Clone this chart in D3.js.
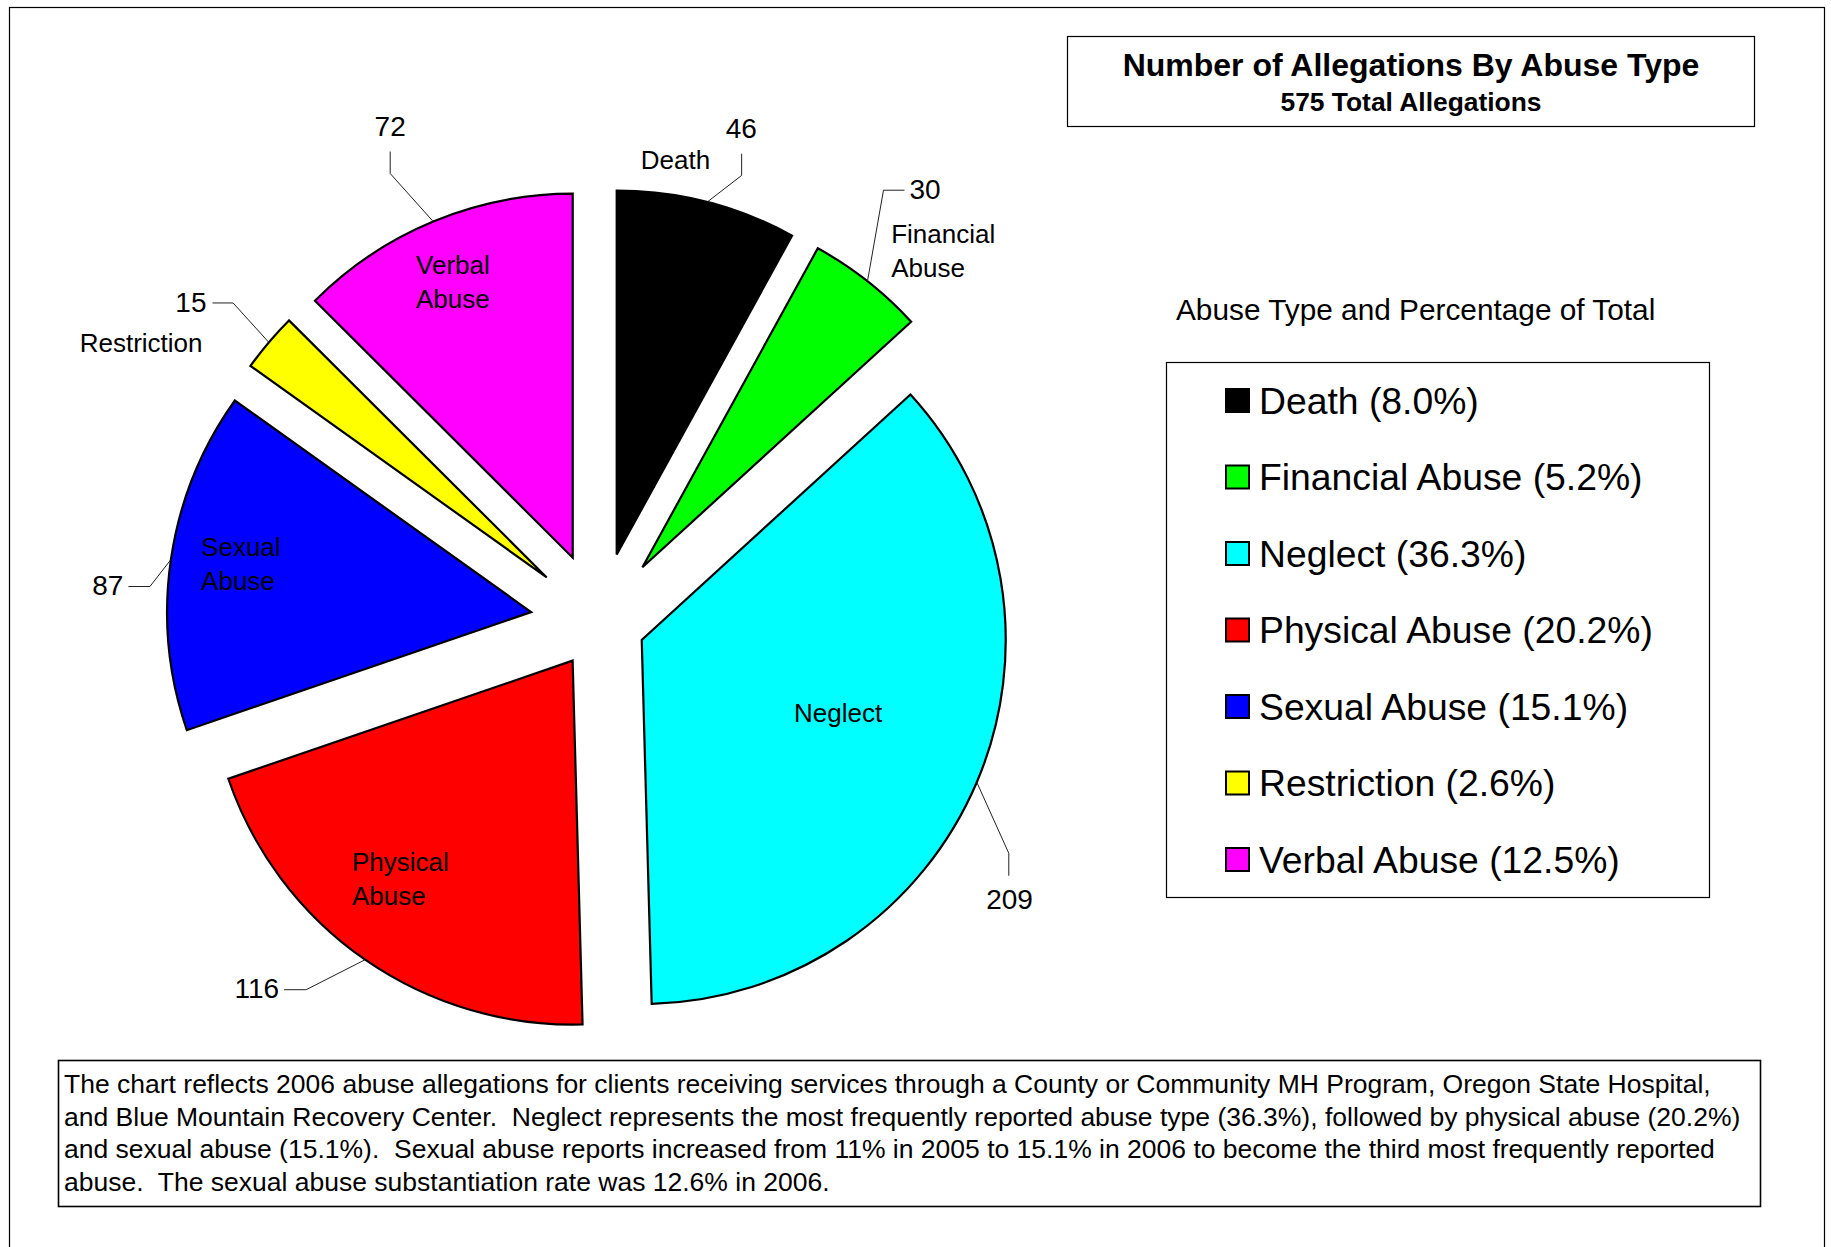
<!DOCTYPE html>
<html>
<head>
<meta charset="utf-8">
<script src="https://cdn.jsdelivr.net/npm/d3@7"></script>
<style>
  body { margin: 0; background: #fff; }
  svg { display: block; font-family: "Liberation Sans", Arial, sans-serif; }
</style>
</head>
<body>
<svg id="chart" width="1831" height="1247"></svg>
<script>
// data
var categories = ["Death", "Financial Abuse", "Neglect", "Physical Abuse", "Sexual Abuse", "Restriction", "Verbal Abuse"];
var counts = [46, 30, 209, 116, 87, 15, 72];
var colors = ["#000000", "#00ff00", "#00ffff", "#ff0000", "#0000ff", "#ffff00", "#ff00ff"];
var titleText = "Number of Allegations By Abuse Type";
var legendTitle = "Abuse Type and Percentage of Total";
var noteLines = [
    "The chart reflects 2006 abuse allegations for clients receiving services through a County or Community MH Program, Oregon State Hospital,",
    "and Blue Mountain Recovery Center.  Neglect represents the most frequently reported abuse type (36.3%), followed by physical abuse (20.2%)",
    "and sexual abuse (15.1%).  Sexual abuse reports increased from 11% in 2005 to 15.1% in 2006 to become the third most frequently reported",
    "abuse.  The sexual abuse substantiation rate was 12.6% in 2006."
];

// how each slice is pulled out and labelled (like the excel chart)
var explode = {"Death": 69.6, "Financial Abuse": 69.6, "Neglect": 46, "Physical Abuse": 47, "Sexual Abuse": 69, "Restriction": 69, "Verbal Abuse": 69.6};
var labelLayout = {
    "Death":           {leader: [[34.4, -26.6], [34.4, -48.3]], value: [34, -64, "middle"], name: {lines: ["Death"], at: [3, -32.6], anchor: "end", outside: true}},
    "Financial Abuse": {leader: [[16, -91], [37, -91]], value: [42, -82, "start"], name: {lines: ["Financial", "Abuse"], at: [23.7, -37.9], anchor: "start", outside: true}},
    "Neglect":         {leader: [[32, 71], [32, 93.5]], value: [32.8, 126.8, "middle"], name: {lines: ["Neglect"], at: [196.3, 81.7], anchor: "middle"}},
    "Physical Abuse":  {leader: [[-59, 30], [-81, 30]], value: [-86, 38.4, "end"], name: {lines: ["Physical", "Abuse"], at: [-220.6, 210], anchor: "start"}},
    "Sexual Abuse":    {leader: [[-21, 27], [-42.5, 27]], value: [-47.5, 35.3, "end"], name: {lines: ["Sexual", "Abuse"], at: [-330, -55.6], anchor: "start"}},
    "Restriction":     {leader: [[-35.7, -39.4], [-56.3, -39.4]], value: [-62.3, -30.4, "end"], name: {lines: ["Restriction"], at: [-66.3, 10], anchor: "end", outside: true}},
    "Verbal Abuse":    {leader: [[-43, -48], [-43, -70]], value: [-43, -85.4, "middle"], name: {lines: ["Verbal", "Abuse"], at: [-156.7, -283.7], anchor: "start"}}
};

var svg = d3.select("#chart");
var total = d3.sum(counts);
var cx = 599.4, cy = 622, R = 364;

function drawFrame(){
    svg.append("rect").attr("x", 9.5).attr("y", 7.5).attr("width", 1815).attr("height", 1300)
        .attr("fill", "none").attr("stroke", "#000").attr("stroke-width", 1.2);
}

function drawTitle(){
    svg.append("rect").attr("x", 1067.5).attr("y", 36.5).attr("width", 687).attr("height", 90)
        .attr("fill", "#fff").attr("stroke", "#000").attr("stroke-width", 1.2);
    svg.append("text").attr("x", 1411).attr("y", 76).attr("text-anchor", "middle")
        .attr("font-size", 32).attr("font-weight", "bold").text(titleText);
    svg.append("text").attr("x", 1411).attr("y", 111).attr("text-anchor", "middle")
        .attr("font-size", 26.4).attr("font-weight", "bold").text(total + " Total Allegations");
}

function drawPie(){
    var pie = d3.pie().sort(null).value(function(d){ return d; });
    var arc = d3.arc().innerRadius(0).outerRadius(R);
    var slices = pie(counts);
    var g = svg.append("g");

    slices.forEach(function(s, i){
        var name = categories[i];
        var mid = (s.startAngle + s.endAngle) / 2;
        var ux = Math.sin(mid), uy = -Math.cos(mid);
        var tip = [cx + ux * explode[name], cy + uy * explode[name]];
        var p = [tip[0] + ux * R, tip[1] + uy * R];
        var lay = labelLayout[name];

        g.append("path").attr("d", arc(s))
            .attr("transform", "translate(" + tip[0] + "," + tip[1] + ")")
            .attr("fill", colors[i]).attr("stroke", "#000").attr("stroke-width", 2.2)
            .attr("stroke-linejoin", "miter");

        var pts = [p].concat(lay.leader.map(function(o){ return [p[0] + o[0], p[1] + o[1]]; }));
        g.append("path").attr("d", d3.line()(pts))
            .attr("fill", "none").attr("stroke", "#222").attr("stroke-width", 1);

        g.append("text").attr("x", p[0] + lay.value[0]).attr("y", p[1] + lay.value[1])
            .attr("text-anchor", lay.value[2]).attr("font-size", 28).text(counts[i]);

        var base = lay.name.outside ? p : tip;
        var t = g.append("text").attr("font-size", 26).attr("text-anchor", lay.name.anchor);
        lay.name.lines.forEach(function(line, j){
            t.append("tspan").attr("x", base[0] + lay.name.at[0])
                .attr("y", base[1] + lay.name.at[1] + j * 34).text(line);
        });
    });
}

function drawLegend(){
    svg.append("text").attr("x", 1176).attr("y", 320).attr("font-size", 29.8).text(legendTitle);
    svg.append("rect").attr("x", 1166.5).attr("y", 362.5).attr("width", 543).attr("height", 535)
        .attr("fill", "#fff").attr("stroke", "#000").attr("stroke-width", 1.2);
    var y = d3.scalePoint().domain(categories).range([400.5, 859.5]);
    var items = svg.append("g").selectAll("g").data(categories).enter().append("g")
        .attr("transform", function(d){ return "translate(0," + y(d) + ")"; });
    items.append("rect").attr("x", 1226).attr("y", -11.5).attr("width", 23).attr("height", 23)
        .attr("fill", function(d, i){ return colors[i]; }).attr("stroke", "#000").attr("stroke-width", 2);
    items.append("text").attr("x", 1259).attr("y", 13.2).attr("font-size", 37.3)
        .text(function(d, i){ return d + " (" + (counts[i] / total * 100).toFixed(1) + "%)"; });
}

function drawNote(){
    svg.append("rect").attr("x", 58.5).attr("y", 1060.5).attr("width", 1702).attr("height", 146)
        .attr("fill", "#fff").attr("stroke", "#000").attr("stroke-width", 1.6);
    svg.append("g").selectAll("text").data(noteLines).enter().append("text")
        .attr("x", 64).attr("y", function(d, i){ return 1093 + i * 32.7; })
        .attr("font-size", 26.5).style("white-space", "pre").text(function(d){ return d; });
}

drawFrame();
drawTitle();
drawPie();
drawLegend();
drawNote();
</script>
</body>
</html>
